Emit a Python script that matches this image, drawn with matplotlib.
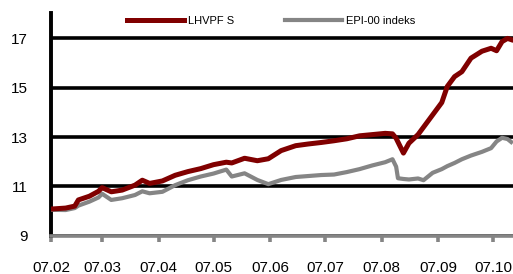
"""LHVPF S vs EPI-00 indeks, 2007."""
import matplotlib
matplotlib.use('Agg')
import matplotlib.pyplot as plt
import matplotlib.dates as mdates
import pandas as pd

dates = pd.to_datetime([
    '2007-02-01', '2007-02-09', '2007-02-14', '2007-02-16', '2007-02-22',
    '2007-02-27', '2007-03-01', '2007-03-06', '2007-03-12', '2007-03-19',
    '2007-03-23', '2007-03-27', '2007-04-03', '2007-04-10', '2007-04-17',
    '2007-04-24', '2007-05-01', '2007-05-08', '2007-05-11', '2007-05-18',
    '2007-05-25', '2007-05-31', '2007-06-07', '2007-06-15', '2007-06-22',
    '2007-06-29', '2007-07-06', '2007-07-13', '2007-07-20', '2007-07-27',
    '2007-08-03', '2007-08-07', '2007-08-09', '2007-08-10', '2007-08-13',
    '2007-08-16', '2007-08-21', '2007-08-24', '2007-08-29', '2007-09-03',
    '2007-09-06', '2007-09-10', '2007-09-14', '2007-09-19', '2007-09-25',
    '2007-09-30', '2007-10-03', '2007-10-06', '2007-10-09', '2007-10-11',
])

lhvpf = [
    10.08, 10.12, 10.20, 10.45, 10.60, 10.80, 10.95, 10.78, 10.85, 11.05,
    11.25, 11.12, 11.22, 11.45, 11.60, 11.72, 11.88, 11.98, 11.95, 12.14,
    12.04, 12.12, 12.45, 12.65, 12.72, 12.78, 12.85, 12.93, 13.05, 13.10,
    13.15, 13.13, 12.95, 12.80, 12.35, 12.75, 13.10, 13.40, 13.90, 14.40,
    15.05, 15.45, 15.65, 16.20, 16.48, 16.60, 16.50, 16.87, 17.00, 16.95,
]

epi = [
    10.05, 10.04, 10.12, 10.22, 10.38, 10.55, 10.70, 10.45, 10.52, 10.65,
    10.80, 10.72, 10.78, 11.05, 11.25, 11.40, 11.52, 11.68, 11.40, 11.53,
    11.26, 11.09, 11.26, 11.38, 11.42, 11.46, 11.48, 11.58, 11.70, 11.85,
    11.98, 12.10, 11.80, 11.33, 11.30, 11.28, 11.32, 11.25, 11.55, 11.70,
    11.82, 11.95, 12.10, 12.25, 12.40, 12.55, 12.82, 12.97, 12.92, 12.80,
]

y_ticks = [9, 11, 13, 15, 17]

plt.rcParams['font.family'] = ['Liberation Sans', 'DejaVu Sans']

fig = plt.figure(figsize=(5.13, 2.74), dpi=100)
ax = fig.add_axes([51 / 513, 1 - 235.7 / 274, 1 - 51 / 513, (235.7 - 13) / 274])

ax.plot(dates, lhvpf, color='#800000', lw=3.6, label='LHVPF S', zorder=4)
ax.plot(dates, epi, color='#858585', lw=3.0, label='EPI-00 indeks', zorder=3)

ax.set_ylim(9, 18.03)
ax.set_xlim(pd.Timestamp('2007-02-01'), pd.Timestamp('2007-10-12'))
ax.set_yticks(y_ticks)
ax.yaxis.grid(True, color='black', lw=2.6)
ax.set_axisbelow(True)

ax.xaxis.set_major_locator(mdates.MonthLocator())
ax.xaxis.set_major_formatter(mdates.DateFormatter('%y.%m'))

for side in ['top', 'right']:
    ax.spines[side].set_visible(False)
ax.spines['left'].set_color('black')
ax.spines['left'].set_linewidth(2.8)
ax.spines['bottom'].set_color('#858585')
ax.spines['bottom'].set_linewidth(2.6)

ax.tick_params(axis='y', length=0, pad=17, labelsize=11)
ax.tick_params(axis='x', direction='out', length=4, width=2.6, color='#858585',
               pad=14, labelsize=11)

ax.legend(loc='center', bbox_to_anchor=(271 / 513, 1 - 21 / 274),
          bbox_transform=fig.transFigure, ncol=2, frameon=False, fontsize=8,
          handlelength=5.1, handletextpad=0.35, columnspacing=4.6)

fig.savefig('out.png', dpi=100)
